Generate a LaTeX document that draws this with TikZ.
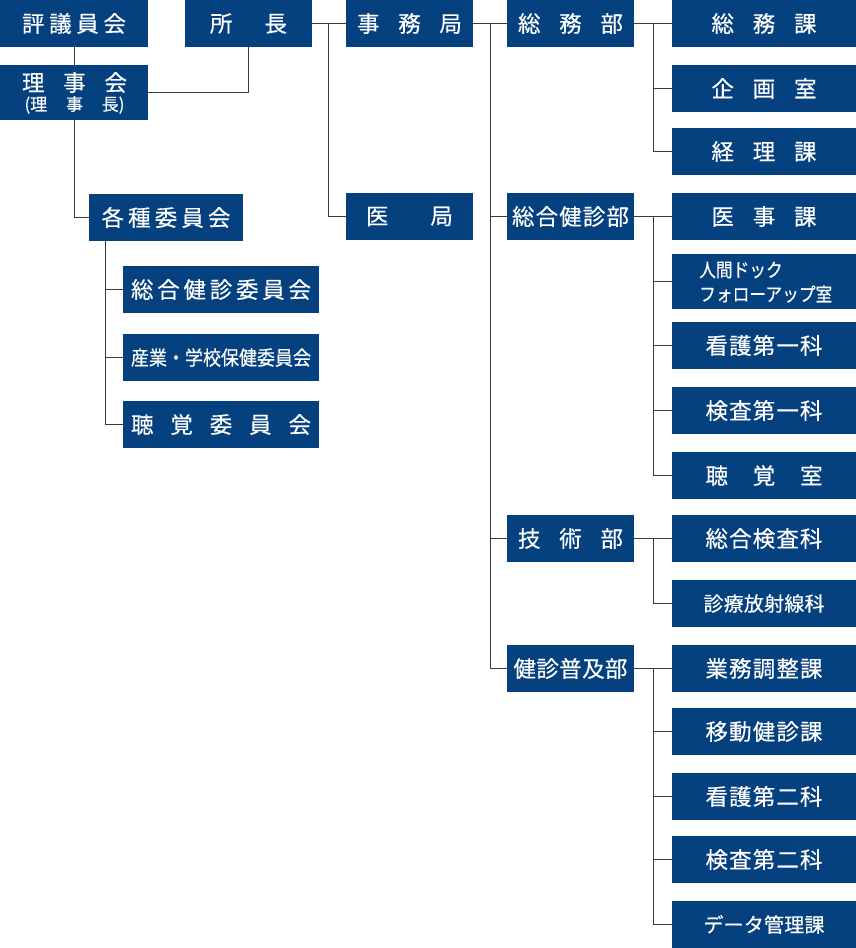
\documentclass[tikz,border=0pt]{standalone}
\usepackage{fontspec}
\usepackage{graphicx}
\setmainfont{Noto Sans CJK JP}[FakeBold=0.35,AutoFakeBold=0.35]
\definecolor{boxblue}{RGB}{4,65,126}
\definecolor{linegray}{RGB}{58,58,58}
\newcommand\spr[2]{\makebox[#1][s]{#2}}
\begin{document}
\begin{tikzpicture}[x=1pt,y=-1pt,
  obox/.style={fill=boxblue, draw=none, text=white, inner sep=0pt, minimum height=47pt, font=\fontsize{22.5}{24}\selectfont\bfseries},
  lbox/.style={obox, minimum width=148pt},
  mbox/.style={obox, minimum width=127pt},
  rbox/.style={obox, minimum width=184pt},
  cbox/.style={obox, minimum width=196pt},
  conn/.style={draw=linegray, line width=1pt},
  lbl/.style={text=white, inner sep=0pt}
]
\useasboundingbox (0,0) rectangle (856,948);
% left
\node[lbox] (hyo) at (74,23.5) {\spr{104pt}{評\hfil 議\hfil 員\hfil 会}};
\node[mbox] (sho) at (248.5,23.5) {\spr{77pt}{所\hfil 長}};
\node[mbox] (jimu) at (409.5,23.5) {\spr{105pt}{事\hfil 務\hfil 局}};
\node[lbox, minimum height=55pt] (riji) at (74,92.5) {};
\node[lbl, font=\fontsize{22.5}{24}\selectfont\bfseries] (riji1) at (74.5,82.5) {\spr{105pt}{理\hfil 事\hfil 会}};
\node[lbl, font=\fontsize{17}{18}\selectfont\bfseries] (riji2) at (74.5,105) {\spr{100pt}{(理\hfil 事\hfil 長)}};
\node[obox, minimum width=154pt] (kaku) at (166,217.5) {\spr{129pt}{各\hfil 種\hfil 委\hfil 員\hfil 会}};
\node[mbox] (ikyoku) at (409.5,216.5) {\spr{87pt}{医\hfil 局}};
\node[cbox] (c1) at (221,289.5) {\spr{180pt}{総\hfil 合\hfil 健\hfil 診\hfil 委\hfil 員\hfil 会}};
\node[cbox] (c2) at (221,357.5) {\scalebox{0.9}[1]{\fontsize{20}{22}\selectfont\bfseries 産業・学校保健委員会}};
\node[cbox] (c3) at (221,424.5) {\spr{180pt}{聴\hfil 覚\hfil 委\hfil 員\hfil 会}};
% middle
\node[mbox] (somubu) at (570.5,23.5) {\spr{105pt}{総\hfil 務\hfil 部}};
\node[mbox] (kenshin) at (570.5,216.5) {\spr{117pt}{総\hfil 合\hfil 健\hfil 診\hfil 部}};
\node[mbox] (gijutsu) at (570.5,538.5) {\spr{105pt}{技\hfil 術\hfil 部}};
\node[mbox] (fukyu) at (570.5,668.5) {\spr{114pt}{健\hfil 診\hfil 普\hfil 及\hfil 部}};
% right
\node[rbox] (somuka) at (764,23.5) {\spr{105pt}{総\hfil 務\hfil 課}};
\node[rbox] (kikaku) at (764,88.5) {\spr{105pt}{企\hfil 画\hfil 室}};
\node[rbox] (keiri) at (764,151.5) {\spr{105pt}{経\hfil 理\hfil 課}};
\node[rbox] (iji) at (764,216.5) {\spr{105pt}{医\hfil 事\hfil 課}};
\node[rbox, minimum height=55pt] (dock) at (764,281.5) {};
\node[lbl, anchor=west, font=\fontsize{19}{21}\selectfont\bfseries] (dock1) at (699,270) {\scalebox{0.88}[1]{人間ドック}};
\node[lbl, anchor=west, font=\fontsize{19}{21}\selectfont\bfseries] (dock2) at (699,294) {\scalebox{0.88}[1]{フォローアップ室}};
\node[rbox] (kango1) at (764,345.5) {\spr{117pt}{看\hfil 護\hfil 第\hfil 一\hfil 科}};
\node[rbox] (kensa1) at (764,410.5) {\spr{117pt}{検\hfil 査\hfil 第\hfil 一\hfil 科}};
\node[rbox] (chokaku) at (764,475.5) {\spr{117pt}{聴\hfil 覚\hfil 室}};
\node[rbox] (sogokensa) at (764,538.5) {\spr{117pt}{総\hfil 合\hfil 検\hfil 査\hfil 科}};
\node[rbox] (hoshasen) at (764,603.5) {\fontsize{20}{22}\selectfont\bfseries\spr{121pt}{診\hfil 療\hfil 放\hfil 射\hfil 線\hfil 科}};
\node[rbox] (gyomu) at (764,668.5) {\spr{117pt}{業\hfil 務\hfil 調\hfil 整\hfil 課}};
\node[rbox] (ido) at (764,731.5) {\spr{117pt}{移\hfil 動\hfil 健\hfil 診\hfil 課}};
\node[rbox] (kango2) at (764,796.5) {\spr{117pt}{看\hfil 護\hfil 第\hfil 二\hfil 科}};
\node[rbox] (kensa2) at (764,859.5) {\spr{117pt}{検\hfil 査\hfil 第\hfil 二\hfil 科}};
\node[rbox] (data) at (764,924.5) {\fontsize{20}{22}\selectfont\bfseries\spr{121pt}{デ\hfil ー\hfil タ\hfil 管\hfil 理\hfil 課}};
% connectors
\draw[conn] (hyo.south) -- (riji.north);
\draw[conn] (sho.south) |- (riji.east);
\draw[conn] (sho.east) -- (jimu.west);
\coordinate (t1) at (328.3,23.5);
\draw[conn] (t1) |- (ikyoku.west);
\draw[conn] (riji.south) |- (kaku.west);
\coordinate (t2) at (105.7,241);
\draw[conn] (t2) |- (c3.west);
\draw[conn] (t2 |- c1.west) -- (c1.west);
\draw[conn] (t2 |- c2.west) -- (c2.west);
\draw[conn] (jimu.east) -- (somubu.west);
\coordinate (t3) at (490.7,23.5);
\draw[conn] (t3) |- (fukyu.west);
\draw[conn] (t3 |- kenshin.west) -- (kenshin.west);
\draw[conn] (t3 |- gijutsu.west) -- (gijutsu.west);
\draw[conn] (somubu.east) -- (somuka.west);
\coordinate (t4) at (653.3,23.5);
\draw[conn] (t4) |- (keiri.west);
\draw[conn] (t4 |- kikaku.west) -- (kikaku.west);
\draw[conn] (kenshin.east) -- (iji.west);
\coordinate (t5) at (653.3,216.5);
\draw[conn] (t5) |- (chokaku.west);
\draw[conn] (t5 |- dock.west) -- (dock.west);
\draw[conn] (t5 |- kango1.west) -- (kango1.west);
\draw[conn] (t5 |- kensa1.west) -- (kensa1.west);
\draw[conn] (gijutsu.east) -- (sogokensa.west);
\coordinate (t6) at (653.3,538.5);
\draw[conn] (t6) |- (hoshasen.west);
\draw[conn] (fukyu.east) -- (gyomu.west);
\coordinate (t7) at (653.3,668.5);
\draw[conn] (t7) |- (data.west);
\draw[conn] (t7 |- ido.west) -- (ido.west);
\draw[conn] (t7 |- kango2.west) -- (kango2.west);
\draw[conn] (t7 |- kensa2.west) -- (kensa2.west);
\end{tikzpicture}
\end{document}
